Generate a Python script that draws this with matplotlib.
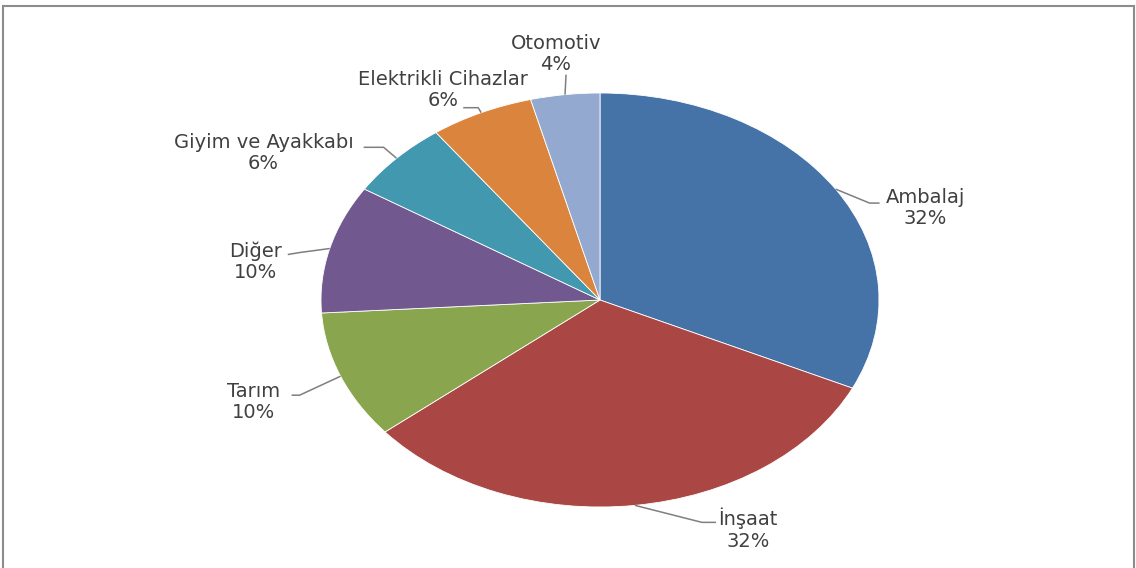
import matplotlib
matplotlib.use("Agg")
import matplotlib.pyplot as plt
from matplotlib.patches import Rectangle
import numpy as np

categories = ["Ambalaj", "İnşaat", "Tarım", "Diğer", "Giyim ve Ayakkabı", "Elektrikli Cihazlar", "Otomotiv"]
values = [32, 32, 10, 10, 6, 6, 4]
colors = ["#4572A7", "#AA4643", "#89A54E", "#71588F", "#4198AF", "#DB843D", "#93A9CF"]

# label layout: (text dx, text dy, elbow dx, elbow dy, end dx, end dy) in pixels from wedge edge point (y down)
label_layout = [
    (90, 19, 34, 14, 44, 14),
    (113, 24, 67, 17, 81, 17),
    (-87, 26, -41, 19, -49, 19),
    (-74, 13, -30, 4, -42, 6),
    (-133, -5, -13, -11, -33, -11),
    (-38, -23, -3, -5, -18, -5),
    (-9, -41, 1, -20, 1, -20),
]

W, H = 1136, 568
fig = plt.figure(figsize=(W / 100, H / 100), dpi=100)
fig.patch.set_facecolor("white")

cx, cy, rx, ry = 600, 300, 279, 207
ax = fig.add_axes([(cx - rx) / W, (H - cy - ry) / H, 2 * rx / W, 2 * ry / H])
wedges, _ = ax.pie(values, colors=colors, startangle=90, counterclock=False,
                   wedgeprops=dict(edgecolor="white", linewidth=0.6))
ax.set_aspect("auto")
ax.set_xlim(-1, 1)
ax.set_ylim(-1, 1)
ax.axis("off")

def px2data(dxp, dyp):
    return dxp / rx, -dyp / ry

total = sum(values)
cum = 0
for cat, v, lay in zip(categories, values, label_layout):
    mid = (cum + v / 2) / total * 2 * np.pi
    cum += v
    ex, ey = np.sin(mid), np.cos(mid)
    tdx, tdy, bdx, bdy, ndx, ndy = lay
    bx, by = px2data(bdx, bdy)
    nx, ny = px2data(ndx, ndy)
    tx, ty = px2data(tdx, tdy)
    ax.plot([ex, ex + bx, ex + nx], [ey, ey + by, ey + ny], color="#7f7f7f",
            lw=1.1, clip_on=False, solid_capstyle="butt")
    ax.text(ex + tx, ey + ty, f"{cat}\n{v}%", ha="center", va="center",
            multialignment="center", fontsize=14, family="DejaVu Sans",
            color="#404040", linespacing=1.15, clip_on=False)

fig.patches.append(Rectangle((3 / W, -0.02), (W - 5) / W, 1 - 6 / H + 0.02,
                             transform=fig.transFigure, fill=False,
                             edgecolor="#8c8c8c", lw=1.5))

fig.savefig("out.png", dpi=100)
